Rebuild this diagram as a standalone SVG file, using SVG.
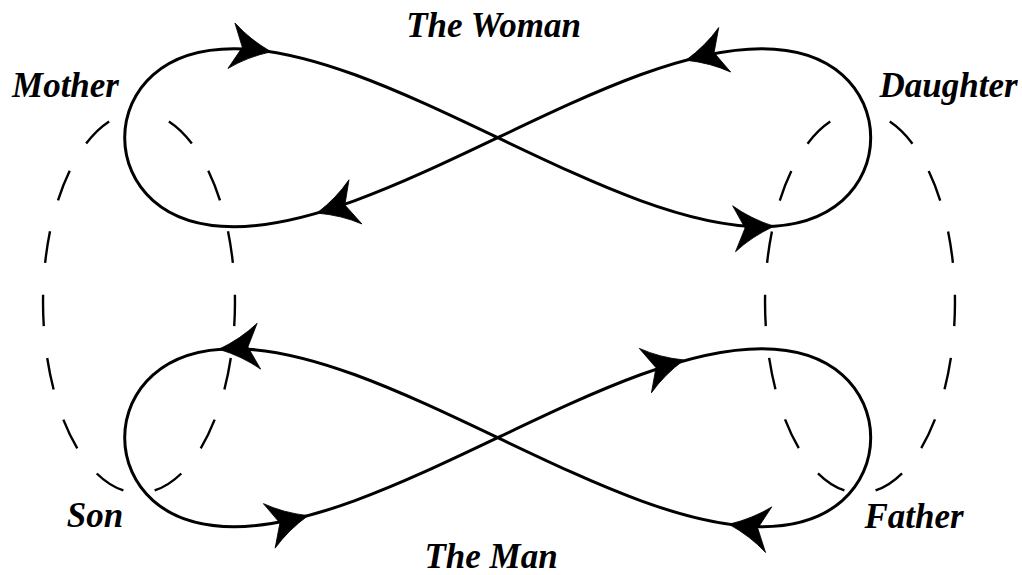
<svg xmlns="http://www.w3.org/2000/svg" xmlns:xlink="http://www.w3.org/1999/xlink" width="1022" height="575" viewBox="0 0 1022 575">
<style>
.lbl{font-family:"Liberation Serif","Times New Roman",serif;font-weight:bold;font-style:italic;font-size:35px;fill:#000;text-anchor:middle}
.eight{fill:none;stroke:#000;stroke-width:3}
.dash{fill:none;stroke:#000;stroke-width:2.4;stroke-dasharray:32 32;stroke-dashoffset:32}
.arr{fill:#000;stroke:#000;stroke-width:0.8;stroke-linejoin:miter}
</style>
<defs>
<path id="eightPath" d="M373,0 C373,23.3 363.3,46.45 344.61,62.93 C325.92,79.41 298.28,89 263.75,89 C229.22,89 187.85,79.41 142.74,62.93 C97.63,46.45 48.83,23.3 0,0 C-48.83,-23.3 -97.63,-46.45 -142.74,-62.93 C-187.85,-79.41 -229.22,-89 -263.75,-89 C-298.28,-89 -325.92,-79.41 -344.61,-62.93 C-363.3,-46.45 -373,-23.3 -373,0 C-373,23.3 -363.3,46.45 -344.61,62.93 C-325.92,79.41 -298.28,89 -263.75,89 C-229.22,89 -187.85,79.41 -142.74,62.93 C-97.63,46.45 -48.83,23.3 0,0 C48.83,-23.3 97.63,-46.45 142.74,-62.93 C187.85,-79.41 229.22,-89 263.75,-89 C298.28,-89 325.92,-79.41 344.61,-62.93 C363.3,-46.45 373,-23.3 373,0 Z"/>
<path id="arrowHead" d="M1,0 Q-22,-9 -39,-23 L-28,0 L-39,23 Q-22,9 1,0 Z"/>
</defs>
<g id="connectors">
<g id="woman-eight">
<use xlink:href="#eightPath" class="eight" transform="translate(497.7,137.7)"/>
<use xlink:href="#arrowHead" class="arr" transform="translate(270,51.6) rotate(8.7)"/>
<use xlink:href="#arrowHead" class="arr" transform="translate(773,226.3) rotate(-3.6)"/>
<use xlink:href="#arrowHead" class="arr" transform="translate(687,59.9) rotate(165)"/>
<use xlink:href="#arrowHead" class="arr" transform="translate(318,212.8) rotate(163.7)"/>
</g>
<g id="man-eight">
<use xlink:href="#eightPath" class="eight" transform="translate(497.7,437.7)"/>
<use xlink:href="#arrowHead" class="arr" transform="translate(220,349.2) rotate(175.6)"/>
<use xlink:href="#arrowHead" class="arr" transform="translate(683,360.3) rotate(-15.3)"/>
<use xlink:href="#arrowHead" class="arr" transform="translate(307,515.9) rotate(-14.8)"/>
<use xlink:href="#arrowHead" class="arr" transform="translate(730,524.4) rotate(187.8)"/>
</g>
<path id="mother-son" class="dash" pathLength="928" d="M139,112 A96,190.5 0 0 1 139,493 A96,190.5 0 0 1 139,112 Z"/>
<path id="daughter-father" class="dash" pathLength="928" d="M860,112 A95,190.5 0 0 1 860,493 A95,190.5 0 0 1 860,112 Z"/>
</g>
<g id="the-woman"><text class="lbl" x="493.5" y="37">The Woman</text></g>
<g id="mother"><text class="lbl" x="65.5" y="97">Mother</text></g>
<g id="daughter"><text class="lbl" x="948.5" y="97">Daughter</text></g>
<g id="son"><text class="lbl" x="95" y="527">Son</text></g>
<g id="father"><text class="lbl" x="914" y="528">Father</text></g>
<g id="the-man"><text class="lbl" x="491" y="568">The Man</text></g>
</svg>
